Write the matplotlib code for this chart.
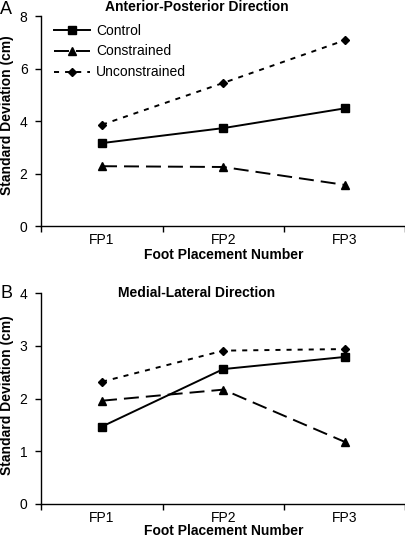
import numpy as np
from matplotlib import pyplot as plt

plt.rcParams['font.family'] = ['Liberation Sans', 'DejaVu Sans']

categories = ["FP1", "FP2", "FP3"]

# Anterior-Posterior
ap_control = [3.17, 3.74, 4.49]
ap_constrained = [2.29, 2.26, 1.58]
ap_unconstrained = [3.87, 5.46, 7.08]

# Medial-Lateral
ml_control = [1.47, 2.56, 2.79]
ml_constrained = [1.96, 2.17, 1.18]
ml_unconstrained = [2.32, 2.91, 2.94]

x = np.arange(1, len(categories) + 1)

fig = plt.figure(figsize=(4.06, 5.39), dpi=100)
ax_a = fig.add_axes([0.102, 0.580, 0.896, 0.390])
ax_b = fig.add_axes([0.102, 0.065, 0.896, 0.391])


def draw_panel(ax, control, constrained, unconstrained, ymax, xlabel_y):
    ax.plot(x, control, color='black', linestyle='-', lw=1.4,
            marker='s', markersize=5.5, label='Control')
    ax.plot(x, constrained, color='black', linestyle=(0, (7.7, 3.6)), lw=1.4,
            marker='^', markersize=6, label='Constrained')
    ax.plot(x, unconstrained, color='black', linestyle=(0, (2.6, 3.1)), lw=1.4,
            marker='D', markersize=4.5, label='Unconstrained')
    ax.set_xlim(0.5, 3.5)
    ax.set_ylim(0, ymax)
    ax.set_xticks(x)
    ax.set_xticklabels(categories)
    ax.set_xticks([0.5, 1.5, 2.5, 3.5], minor=True)
    ax.tick_params(axis='x', which='major', length=0, labelsize=10, pad=5)
    ax.tick_params(axis='x', which='minor', length=4, direction='out', width=1)
    ax.tick_params(axis='y', length=4, direction='out', width=1, labelsize=10, pad=6)
    ax.spines['top'].set_visible(False)
    ax.spines['right'].set_visible(False)
    ax.spines['left'].set_linewidth(1)
    ax.spines['bottom'].set_linewidth(1)
    ax.text(0.5, xlabel_y, "Foot Placement Number", transform=ax.transAxes,
            fontsize=10, fontweight='bold', ha='center', va='center')


draw_panel(ax_a, ap_control, ap_constrained, ap_unconstrained, 8, -0.135)
ax_a.set_yticks([0, 2, 4, 6, 8])
ax_a.legend(loc='upper left', bbox_to_anchor=(0.035, 0.965), frameon=False,
            fontsize=10, handlelength=2.6, handletextpad=0.4, labelspacing=0.5,
            borderpad=0, borderaxespad=0)

draw_panel(ax_b, ml_control, ml_constrained, ml_unconstrained, 4, -0.128)
ax_b.set_yticks([0, 1, 2, 3, 4])

fig.text(0.018, 1 - 115 / 539, "Standard Deviation (cm)", rotation=90,
         fontsize=10, fontweight='bold', ha='center', va='center')
fig.text(0.018, 1 - 395 / 539, "Standard Deviation (cm)", rotation=90,
         fontsize=10, fontweight='bold', ha='center', va='center')
fig.text(0.485, 0.987, "Anterior-Posterior Direction", fontsize=10,
         fontweight='bold', ha='center', va='center')
fig.text(0.485, 0.456, "Medial-Lateral Direction", fontsize=10,
         fontweight='bold', ha='center', va='center')
fig.text(0.0, 0.983, "A", fontsize=13, ha='left', va='center')
fig.text(0.0, 0.456, "B", fontsize=13, ha='left', va='center')

fig.savefig("out.png", dpi=100)
